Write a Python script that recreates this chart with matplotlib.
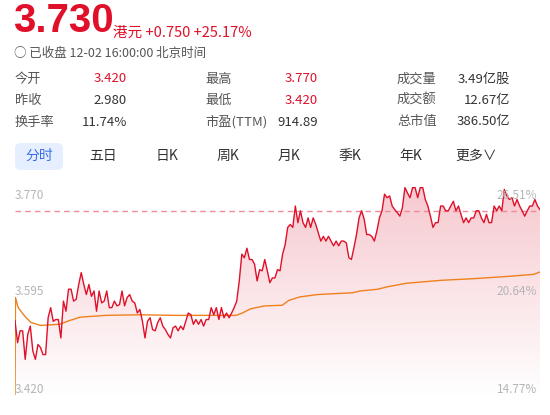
import numpy as np
import matplotlib
matplotlib.use("Agg")
import matplotlib.pyplot as plt
from matplotlib.patches import FancyBboxPatch, Polygon
from matplotlib.colors import LinearSegmentedColormap

plt.rcParams['font.family'] = ['Noto Sans CJK SC', 'DejaVu Sans']

# ---- data ----
prev_close = 2.980
last_price = 3.730
y_low, y_mid, y_high = 3.420, 3.595, 3.770
pct_labels = ['26.51%', '20.64%', '14.77%']

price = [3.545, 3.508, 3.528, 3.528, 3.480, 3.522, 3.536, 3.494, 3.480, 3.505, 3.500,
         3.488, 3.488, 3.550, 3.567, 3.544, 3.547, 3.547, 3.516, 3.578, 3.561, 3.598,
         3.598, 3.578, 3.581, 3.606, 3.626, 3.606, 3.589, 3.606, 3.586, 3.595, 3.561,
         3.595, 3.575, 3.578, 3.595, 3.567, 3.567, 3.578, 3.570, 3.572, 3.595, 3.570,
         3.584, 3.589, 3.578, 3.575, 3.558, 3.564, 3.544, 3.516, 3.544, 3.550, 3.530,
         3.528, 3.542, 3.550, 3.536, 3.530, 3.522, 3.516, 3.533, 3.536, 3.528, 3.536,
         3.530, 3.544, 3.558, 3.555, 3.539, 3.547, 3.539, 3.547, 3.536, 3.547, 3.547,
         3.567, 3.555, 3.567, 3.547, 3.567, 3.550, 3.558, 3.550, 3.558, 3.567, 3.578,
         3.612, 3.657, 3.651, 3.667, 3.648, 3.648, 3.640, 3.612, 3.631, 3.629, 3.648,
         3.629, 3.609, 3.617, 3.617, 3.631, 3.629, 3.657, 3.673, 3.702, 3.707, 3.702,
         3.738, 3.710, 3.730, 3.710, 3.702, 3.718, 3.702, 3.718, 3.707, 3.693, 3.679,
         3.687, 3.679, 3.687, 3.679, 3.671, 3.679, 3.671, 3.679, 3.679, 3.676, 3.651,
         3.648, 3.668, 3.690, 3.718, 3.730, 3.716, 3.690, 3.690, 3.687, 3.679, 3.696,
         3.718, 3.730, 3.758, 3.752, 3.755, 3.738, 3.732, 3.727, 3.721, 3.735, 3.769,
         3.760, 3.752, 3.769, 3.769, 3.752, 3.769, 3.769, 3.749, 3.738, 3.721, 3.702,
         3.710, 3.710, 3.738, 3.738, 3.730, 3.730, 3.738, 3.746, 3.730, 3.738, 3.724,
         3.710, 3.718, 3.710, 3.718, 3.718, 3.730, 3.730, 3.718, 3.710, 3.724, 3.710,
         3.710, 3.738, 3.730, 3.738, 3.730, 3.766, 3.755, 3.749, 3.752, 3.738, 3.749,
         3.738, 3.730, 3.721, 3.730, 3.738, 3.738, 3.749, 3.738, 3.732]
price_min = np.linspace(0, 330, len(price))

avg_min = [0, 0.3, 2, 6, 10, 16, 28, 34, 41, 57, 79, 101, 123, 139, 143, 148, 157,
           168, 172, 179, 190, 212, 217, 228, 234, 246, 268, 290, 312, 326, 330]
avg_price = [3.420, 3.584, 3.567, 3.553, 3.542, 3.537, 3.539, 3.545, 3.551, 3.554,
             3.555, 3.554, 3.554, 3.554, 3.558, 3.565, 3.570, 3.571, 3.579, 3.585,
             3.589, 3.592, 3.595, 3.598, 3.602, 3.608, 3.613, 3.616, 3.620, 3.623, 3.627]

stats = [
    [('今开', '3.420', True), ('最高', '3.770', True), ('成交量', '3.49亿股', False)],
    [('昨收', '2.980', False), ('最低', '3.420', True), ('成交额', '12.67亿', False)],
    [('换手率', '11.74%', False), ('市盈(TTM)', '914.89', False), ('总市值', '386.50亿', False)],
]
tabs = ['分时', '五日', '日K', '周K', '月K', '季K', '年K', '更多∨']

RED = '#e0102a'
GRAY = '#555555'
W, H = 550, 415

fig = plt.figure(figsize=(5.5, 4.15), dpi=100, facecolor='white')

def ty(py):
    return 1 - py / H

# ---- header ----
fig.text(13 / W, ty(21), '3.730', color=RED, fontsize=29, fontweight='bold',
         family=['Liberation Sans', 'DejaVu Sans'], va='center')
fig.text(113 / W, ty(33), '港元 +0.750 +25.17%', color=RED, fontsize=10.5, va='center')
fig.text(14 / W, ty(53), '○ 已收盘 12-02 16:00:00 北京时间', color=GRAY, fontsize=9, va='center')

col_label = [15, 205, 397]
col_value = [127, 318, 510]
for r, row in enumerate(stats):
    yy = ty(79 + r * 21.5)
    for c, (lab, val, red) in enumerate(row):
        fig.text(col_label[c] / W, yy, lab, color=GRAY, fontsize=9.5, va='center')
        fig.text(col_value[c] / W, yy, val, color=RED if red else '#333333',
                 fontsize=9.5, va='center', ha='right')

box = FancyBboxPatch((15 / W, ty(170)), 48 / W, 27 / H, transform=fig.transFigure,
                     boxstyle='round,pad=0,rounding_size=0.012', fc='#e6efff', ec='none')
fig.patches.append(box)
tab_x = [39, 103, 167, 228, 289, 350, 411, 476]
for i, (t, x) in enumerate(zip(tabs, tab_x)):
    fig.text(x / W, ty(156), t, color='#3a6ee8' if i == 0 else '#333333',
             fontsize=10, ha='center', va='center')

# ---- chart ----
ax = fig.add_axes([15 / W, ty(395), 525 / W, 208 / H])
ax.set_xlim(0, 330)
ax.set_ylim(y_low, y_high)
ax.axis('off')

grad = np.linspace(0, 1, 256).reshape(-1, 1)
cmap = LinearSegmentedColormap.from_list('f', ['#ffffff', '#f6c9cf'])
im = ax.imshow(grad, extent=[0, 330, y_low, y_high], origin='lower', cmap=cmap,
               aspect='auto', zorder=1)
verts = [(0, y_low)] + list(zip(price_min, price)) + [(330, y_low)]
poly = Polygon(verts, closed=True, transform=ax.transData, fc='none', ec='none')
ax.add_patch(poly)
im.set_clip_path(poly)

ax.axhline(last_price, color='#f08b98', lw=1, ls=(0, (4, 3)), zorder=2)
ax.plot(price_min, price, color=RED, lw=1.0, zorder=4)
ax.plot(avg_min, avg_price, color='#f0801e', lw=1.0, zorder=3)

lab_col = '#b5b5b5'
for yv, pct in zip([y_high, y_mid, y_low], pct_labels):
    va = 'top' if yv == y_high else ('bottom' if yv == y_low else 'center')
    off = -0.003 if yv == y_high else (0.0 if yv == y_mid else -0.002)
    ax.text(0, yv + off, f'{yv:.3f}', color=lab_col, fontsize=8.5, va=va, ha='left', zorder=5)
    ax.text(328, yv + off, pct, color=lab_col, fontsize=8.5, va=va, ha='right', zorder=5)

fig.savefig('out.png', dpi=100, facecolor='white')
